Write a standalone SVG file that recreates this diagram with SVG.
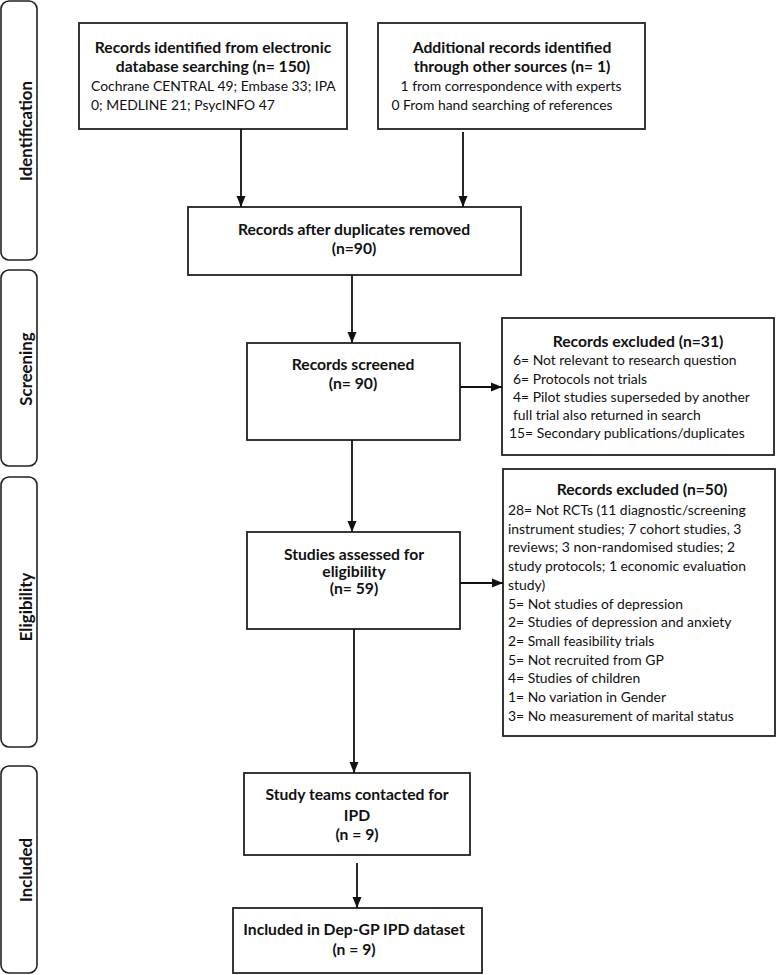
<svg xmlns="http://www.w3.org/2000/svg" width="777" height="975" viewBox="0 0 777 975">
<defs>
<marker id="ah" markerUnits="userSpaceOnUse" markerWidth="12" markerHeight="12" viewBox="0 0 12 12" refX="11" refY="6" orient="auto">
<path d="M0,1.5 L11,6 L0,10.5 Z" fill="#111"/>
</marker>
<style>
.box{fill:#fff;stroke:#222;stroke-width:1.8}
.side{fill:#fff;stroke:#222;stroke-width:1.6}
.b{font-family:Lato,"Open Sans","Liberation Sans",sans-serif;font-weight:bold;font-size:15.7px;fill:#111}
.s{font-size:16.8px}
.n{font-family:Lato,"Open Sans","Liberation Sans",sans-serif;font-size:13.9px;fill:#111}
.c{text-anchor:middle}
.conn line{stroke:#111;stroke-width:1.8;marker-end:url(#ah)}
</style>
</defs>
<rect width="777" height="975" fill="#fff"/>
<g id="phase-identification">
<rect class="side" x="1" y="1" width="36" height="259" rx="8"/>
<text class="b s c" transform="translate(32,131) rotate(-90)">Identification</text>
</g>
<g id="phase-screening">
<rect class="side" x="1" y="270" width="36" height="196" rx="8"/>
<text class="b s c" transform="translate(32,369) rotate(-90)">Screening</text>
</g>
<g id="phase-eligibility">
<rect class="side" x="1" y="477" width="36" height="270" rx="8"/>
<text class="b s c" transform="translate(32,607) rotate(-90)">Eligibility</text>
</g>
<g id="phase-included">
<rect class="side" x="1" y="766" width="36" height="207" rx="8"/>
<text class="b s c" transform="translate(32,870) rotate(-90)">Included</text>
</g>
<g id="db-search">
<rect class="box" x="79" y="23" width="268" height="106"/>
<text class="b c" x="213" y="53">Records identified from electronic</text>
<text class="b c" x="213" y="72">database searching (n= 150)</text>
<text class="n" x="91" y="91">Cochrane CENTRAL 49; Embase 33; IPA</text>
<text class="n" x="91" y="110">0; MEDLINE 21; PsycINFO 47</text>
</g>
<g id="other-sources">
<rect class="box" x="378" y="23" width="267" height="106"/>
<text class="b c" x="512" y="53">Additional records identified</text>
<text class="b c" x="512" y="72">through other sources (n= 1)</text>
<text class="n c" x="511" y="91">1 from correspondence with experts</text>
<text class="n c" x="502" y="110">0 From hand searching of references</text>
</g>
<g id="after-duplicates">
<rect class="box" x="188" y="207" width="333" height="68"/>
<text class="b c" x="354" y="235">Records after duplicates removed</text>
<text class="b c" x="354" y="254">(n=90)</text>
</g>
<g id="screened">
<rect class="box" x="247" y="343" width="213" height="97"/>
<text class="b c" x="353" y="370">Records screened</text>
<text class="b c" x="353" y="389">(n= 90)</text>
</g>
<g id="excluded-31">
<rect class="box" x="502" y="318" width="272" height="137"/>
<text class="b c" x="638" y="347">Records excluded (n=31)</text>
<text class="n" x="513" y="365">6= Not relevant to research question</text>
<text class="n" x="513" y="383.5">6= Protocols not trials</text>
<text class="n" x="513" y="402">4= Pilot studies superseded by another</text>
<text class="n" x="513" y="420">full trial also returned in search</text>
<text class="n" x="509" y="438">15= Secondary publications/duplicates</text>
</g>
<g id="eligibility">
<rect class="box" x="247" y="532" width="213" height="97"/>
<text class="b c" x="354" y="560">Studies assessed for</text>
<text class="b c" x="354" y="577">eligibility</text>
<text class="b c" x="354" y="594">(n= 59)</text>
</g>
<g id="excluded-50">
<rect class="box" x="503" y="469" width="272" height="267"/>
<text class="b c" x="642" y="495">Records excluded (n=50)</text>
<text class="n" x="508" y="515">28= Not RCTs (11 diagnostic/screening</text>
<text class="n" x="508" y="533.7">instrument studies; 7 cohort studies, 3</text>
<text class="n" x="508" y="552.4">reviews; 3 non-randomised studies; 2</text>
<text class="n" x="508" y="571">study protocols; 1 economic evaluation</text>
<text class="n" x="508" y="589.8">study)</text>
<text class="n" x="508" y="608.5">5= Not studies of depression</text>
<text class="n" x="508" y="627">2= Studies of depression and anxiety</text>
<text class="n" x="508" y="646">2= Small feasibility trials</text>
<text class="n" x="508" y="664.6">5= Not recruited from GP</text>
<text class="n" x="508" y="683.3">4= Studies of children</text>
<text class="n" x="508" y="702">1= No variation in Gender</text>
<text class="n" x="508" y="720.7">3= No measurement of marital status</text>
</g>
<g id="contacted">
<rect class="box" x="244" y="773" width="226" height="82"/>
<text class="b c" x="357" y="800">Study teams contacted for</text>
<text class="b c" x="357" y="821">IPD</text>
<text class="b c" x="357" y="840">(n = 9)</text>
</g>
<g id="included">
<rect class="box" x="233" y="908" width="249" height="65"/>
<text class="b c" x="354" y="935">Included in Dep-GP IPD dataset</text>
<text class="b c" x="354" y="955">(n = 9)</text>
</g>
<g id="connectors" class="conn">
<line x1="241" y1="129" x2="241" y2="207"/>
<line x1="463" y1="132" x2="463" y2="207"/>
<line x1="352" y1="275" x2="352" y2="343"/>
<line x1="460" y1="387" x2="502" y2="387"/>
<line x1="352" y1="440" x2="352" y2="532"/>
<line x1="460" y1="583" x2="503" y2="583"/>
<line x1="354" y1="629" x2="354" y2="773"/>
<line x1="357" y1="863" x2="357" y2="908"/>
</g>
</svg>
